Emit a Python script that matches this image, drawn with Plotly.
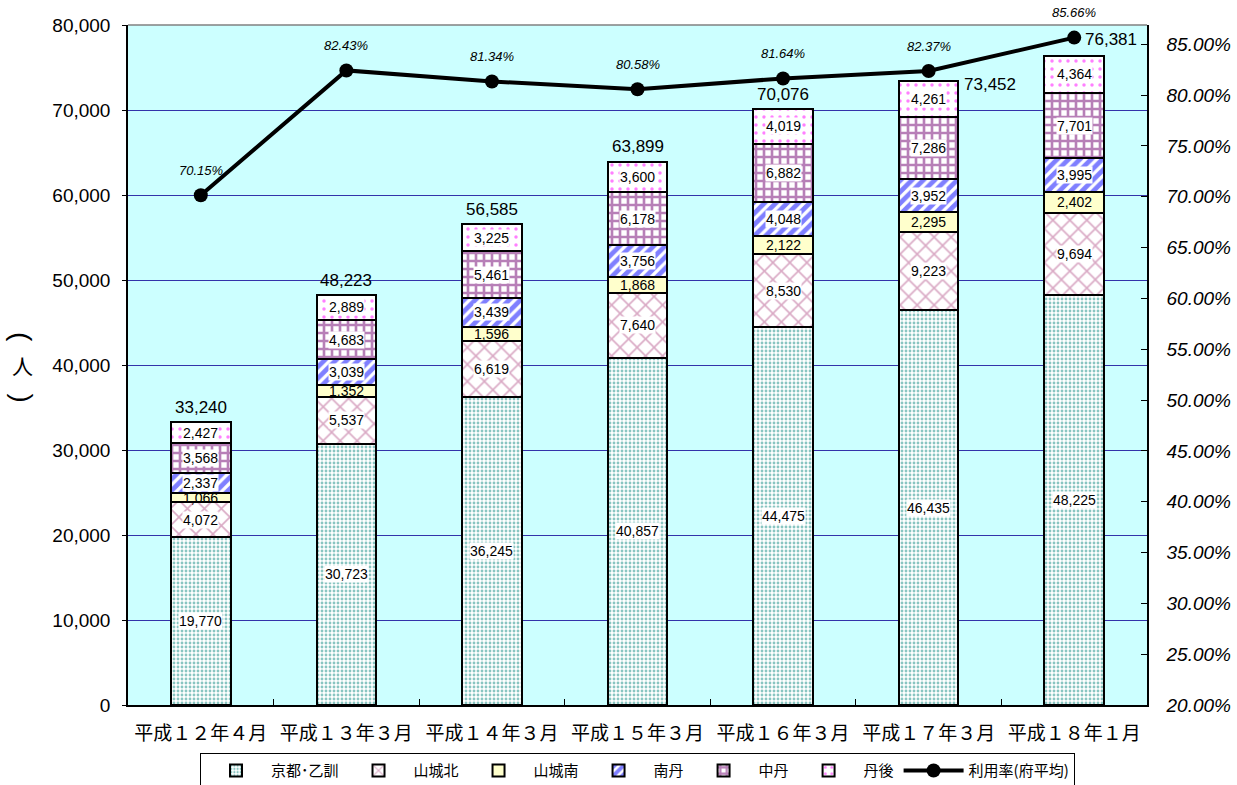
import plotly.graph_objects as go

categories = ["平成１２年４月", "平成１３年３月", "平成１４年３月", "平成１５年３月",
              "平成１６年３月", "平成１７年３月", "平成１８年１月"]
kyoto_otokuni = [19770, 30723, 36245, 40857, 44475, 46435, 48225]
yamashiro_kita = [4072, 5537, 6619, 7640, 8530, 9223, 9694]
yamashiro_minami = [1066, 1352, 1596, 1868, 2122, 2295, 2402]
nantan = [2337, 3039, 3439, 3756, 4048, 3952, 3995]
chutan = [3568, 4683, 5461, 6178, 6882, 7286, 7701]
tango = [2427, 2889, 3225, 3600, 4019, 4261, 4364]
totals = [33240, 48223, 56585, 63899, 70076, 73452, 76381]
rate = [0.7015, 0.8243, 0.8134, 0.8058, 0.8164, 0.8237, 0.8566]

series = [
    ("京都･乙訓", kyoto_otokuni, dict(shape=".", fgcolor="#138C84", bgcolor="#FFFFFF", size=4, solidity=0.4), "#FFFFFF"),
    ("山城北", yamashiro_kita, dict(shape="x", fgcolor="#B4548A", bgcolor="#FFFFFF", size=12, solidity=0.25), "#FFFFFF"),
    ("山城南", yamashiro_minami, None, "#FFFFCC"),
    ("南丹", nantan, dict(shape="/", fgcolor="#0000FF", bgcolor="#FFFFFF", size=8, solidity=0.6), "#FFFFFF"),
    ("中丹", chutan, dict(shape="+", fgcolor="#700070", bgcolor="#FFFFFF", size=8, solidity=0.55), "#FFFFFF"),
    ("丹後", tango, dict(shape=".", fgcolor="#FF00FF", bgcolor="#FFFFFF", size=8, solidity=0.15), "#FFFFFF"),
]

NUM_FONT = "Liberation Sans, Arial, sans-serif"
JP_FONT = "Noto Sans CJK JP, sans-serif"

fig = go.Figure()
for name, vals, pat, color in series:
    marker = dict(color=color, line=dict(color="black", width=2))
    if pat is not None:
        marker["pattern"] = pat
    fig.add_trace(go.Bar(name=name, x=categories, y=vals, marker=marker, width=0.41))

fig.add_trace(go.Scatter(name="利用率(府平均)", x=categories, y=rate, yaxis="y2",
                         mode="lines+markers", line=dict(color="black", width=4),
                         marker=dict(size=14, color="black")))

annotations = []
base = [0] * len(categories)
for name, vals, pat, color in series:
    for i, v in enumerate(vals):
        mid = base[i] + v / 2
        annotations.append(dict(x=categories[i], y=mid, xref="x", yref="y",
                                text=f"{v:,}", showarrow=False,
                                font=dict(family=NUM_FONT, size=14, color="black"),
                                bgcolor=("rgba(0,0,0,0)" if name == "山城南" else "white"),
                                borderpad=0))
        base[i] += v

for i, t in enumerate(totals):
    xs, ys = 0, 15
    if i == 5:
        xs, ys = 61, -4
    elif i == 6:
        xs, ys = 37, 16
    annotations.append(dict(x=categories[i], y=t, xref="x", yref="y", text=f"{t:,}",
                            showarrow=False, xshift=xs, yshift=ys,
                            font=dict(family=NUM_FONT, size=17, color="black")))

for i, r in enumerate(rate):
    annotations.append(dict(x=categories[i], y=r, xref="x", yref="y2", text=f"{r*100:.2f}%",
                            showarrow=False, yshift=25,
                            font=dict(family=NUM_FONT, size=13, color="black", style="italic")))

# y axis title (vertical: rotated parentheses around 人)
for txt, yy, ang, fam, sz in [("(", 0.541, 90, NUM_FONT, 28),
                              ("人", 0.500, 0, JP_FONT, 21),
                              (")", 0.452, 90, NUM_FONT, 28)]:
    annotations.append(dict(x=-0.104, y=yy, xref="paper", yref="paper", text=txt,
                            textangle=ang, xanchor="center", yanchor="middle",
                            showarrow=False, font=dict(family=fam, size=sz, color="black")))

fig.update_layout(
    width=1237, height=785,
    margin=dict(l=128, r=90, t=25, b=80, autoexpand=False),
    paper_bgcolor="white",
    plot_bgcolor="#CCFFFF",
    barmode="stack",
    showlegend=True,
    legend=dict(orientation="h", x=0.5, xanchor="center", y=-0.071, yanchor="top",
                bordercolor="black", borderwidth=1, bgcolor="white",
                font=dict(family=JP_FONT, size=15, color="black"),
                traceorder="normal", itemwidth=60, tracegroupgap=0),
    xaxis=dict(showline=True, linecolor="black", linewidth=1.5, ticks="inside",
               tickson="boundaries", ticklen=6, tickcolor="black", automargin=False,
               ticklabelstandoff=10,
               tickfont=dict(family=JP_FONT, size=19, color="black"), mirror=False),
    yaxis=dict(range=[0, 80000], dtick=10000, tickformat=",", showgrid=True,
               gridcolor="#3333AA", gridwidth=1, showline=True, linecolor="black",
               linewidth=1.5, ticks="outside", ticklen=4, tickcolor="black",
               automargin=False, ticklabelstandoff=8,
               tickfont=dict(family=NUM_FONT, size=19, color="black"), zeroline=False),
    yaxis2=dict(range=[0.20, 0.869], dtick=0.05, tickformat=".2%", overlaying="y",
                side="right", showgrid=False, showline=True, linecolor="black",
                linewidth=1.5, ticks="inside", ticklen=6, tickcolor="black",
                automargin=False, ticklabelstandoff=14,
                tickfont=dict(family=NUM_FONT, size=19, color="black", style="italic"),
                zeroline=False),
    annotations=annotations,
    shapes=[dict(type="line", xref="paper", yref="paper", x0=0, x1=1, y0=1, y1=1,
                 line=dict(color="#808080", width=1.5))],
)

fig.write_html("out.html", config={"displayModeBar": False},
               post_script="document.body.style.margin='0px';")
